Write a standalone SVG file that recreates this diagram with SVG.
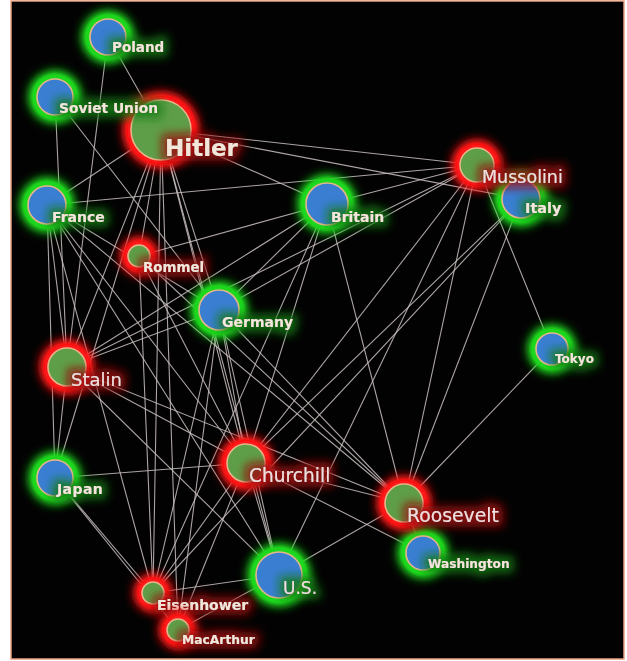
<svg xmlns="http://www.w3.org/2000/svg" width="627" height="661" viewBox="0 0 627 661">
<defs>
<style>
.e line{stroke:#cbc1c1;stroke-width:1.1;stroke-opacity:0.85}
.gb{fill:#1ed81e;filter:url(#blur)}
.rb{fill:#ff1414;filter:url(#blur)}
.cb{fill:#3a7ed2;stroke:#e6b68a;stroke-width:1.6}
.cg{fill:#5e9e48;stroke:#e6b68a;stroke-width:1.6}
.lb{font-family:"DejaVu Sans",Verdana,sans-serif;font-weight:bold;fill:#f3e6da}
.lr{font-family:"DejaVu Sans",Verdana,sans-serif;font-weight:normal;fill:#f2dede}
.tg{filter:url(#haloG)}
.tr{filter:url(#haloR)}
</style>
<filter id="blur" x="-1" y="-1" width="3" height="3">
<feGaussianBlur stdDeviation="5.5" result="b"/>
<feComponentTransfer in="b"><feFuncA type="linear" slope="1.5"/></feComponentTransfer>
</filter>
<filter id="haloG" x="-30%" y="-100%" width="160%" height="300%">
<feMorphology in="SourceAlpha" operator="dilate" radius="5" result="d"/>
<feGaussianBlur in="d" stdDeviation="5" result="b"/>
<feFlood flood-color="#157a15" flood-opacity="0.85"/>
<feComposite in2="b" operator="in" result="g"/>
<feMerge><feMergeNode in="g"/><feMergeNode in="SourceGraphic"/></feMerge>
</filter>
<filter id="haloR" x="-30%" y="-100%" width="160%" height="300%">
<feMorphology in="SourceAlpha" operator="dilate" radius="5" result="d"/>
<feGaussianBlur in="d" stdDeviation="5" result="b"/>
<feFlood flood-color="#9a0e0e" flood-opacity="0.85"/>
<feComposite in2="b" operator="in" result="g"/>
<feMerge><feMergeNode in="g"/><feMergeNode in="SourceGraphic"/></feMerge>
</filter>
</defs>
<rect x="0" y="0" width="627" height="661" fill="#ffffff"/>
<rect x="11" y="1" width="613" height="658" fill="#020202" stroke="#e9a080" stroke-width="1.5"/>
<g id="connectors" class="e">
<line x1="108" y1="37" x2="161" y2="130"/>
<line x1="108" y1="37" x2="67" y2="367"/>
<line x1="55" y1="97" x2="67" y2="367"/>
<line x1="55" y1="97" x2="219" y2="310"/>
<line x1="161" y1="130" x2="47" y2="205"/>
<line x1="161" y1="130" x2="327" y2="204"/>
<line x1="161" y1="130" x2="477" y2="165"/>
<line x1="161" y1="130" x2="521" y2="199"/>
<line x1="161" y1="130" x2="139" y2="256"/>
<line x1="161" y1="130" x2="219" y2="310"/>
<line x1="161" y1="130" x2="246" y2="463"/>
<line x1="161" y1="130" x2="67" y2="367"/>
<line x1="161" y1="130" x2="55" y2="478"/>
<line x1="161" y1="130" x2="153" y2="593"/>
<line x1="161" y1="130" x2="279" y2="575"/>
<line x1="161" y1="130" x2="178" y2="630"/>
<line x1="47" y1="205" x2="477" y2="165"/>
<line x1="47" y1="205" x2="67" y2="367"/>
<line x1="47" y1="205" x2="55" y2="478"/>
<line x1="47" y1="205" x2="153" y2="593"/>
<line x1="47" y1="205" x2="246" y2="463"/>
<line x1="47" y1="205" x2="219" y2="310"/>
<line x1="47" y1="205" x2="404" y2="503"/>
<line x1="47" y1="205" x2="279" y2="575"/>
<line x1="139" y1="256" x2="327" y2="204"/>
<line x1="139" y1="256" x2="153" y2="593"/>
<line x1="139" y1="256" x2="246" y2="463"/>
<line x1="139" y1="256" x2="404" y2="503"/>
<line x1="219" y1="310" x2="327" y2="204"/>
<line x1="219" y1="310" x2="477" y2="165"/>
<line x1="219" y1="310" x2="67" y2="367"/>
<line x1="219" y1="310" x2="246" y2="463"/>
<line x1="219" y1="310" x2="279" y2="575"/>
<line x1="219" y1="310" x2="153" y2="593"/>
<line x1="219" y1="310" x2="404" y2="503"/>
<line x1="219" y1="310" x2="178" y2="630"/>
<line x1="327" y1="204" x2="67" y2="367"/>
<line x1="327" y1="204" x2="246" y2="463"/>
<line x1="327" y1="204" x2="404" y2="503"/>
<line x1="327" y1="204" x2="477" y2="165"/>
<line x1="327" y1="204" x2="153" y2="593"/>
<line x1="477" y1="165" x2="67" y2="367"/>
<line x1="477" y1="165" x2="246" y2="463"/>
<line x1="477" y1="165" x2="404" y2="503"/>
<line x1="477" y1="165" x2="279" y2="575"/>
<line x1="477" y1="165" x2="552" y2="349"/>
<line x1="521" y1="199" x2="246" y2="463"/>
<line x1="521" y1="199" x2="404" y2="503"/>
<line x1="521" y1="199" x2="153" y2="593"/>
<line x1="67" y1="367" x2="55" y2="478"/>
<line x1="67" y1="367" x2="246" y2="463"/>
<line x1="67" y1="367" x2="404" y2="503"/>
<line x1="67" y1="367" x2="279" y2="575"/>
<line x1="55" y1="478" x2="246" y2="463"/>
<line x1="55" y1="478" x2="153" y2="593"/>
<line x1="55" y1="478" x2="178" y2="630"/>
<line x1="246" y1="463" x2="279" y2="575"/>
<line x1="246" y1="463" x2="153" y2="593"/>
<line x1="246" y1="463" x2="178" y2="630"/>
<line x1="246" y1="463" x2="404" y2="503"/>
<line x1="246" y1="463" x2="423" y2="553"/>
<line x1="279" y1="575" x2="404" y2="503"/>
<line x1="279" y1="575" x2="153" y2="593"/>
<line x1="279" y1="575" x2="178" y2="630"/>
<line x1="404" y1="503" x2="552" y2="349"/>
<line x1="404" y1="503" x2="423" y2="553"/>
</g>
<g id="hitler"><circle class="rb" cx="161" cy="130" r="37"/><circle class="cg" cx="161" cy="130" r="30"/><text class="lb tr" x="165" y="156" font-size="23" fill="#fbf3f3">Hitler</text></g>
<g id="poland"><circle class="gb" cx="108" cy="37" r="25"/><circle class="cb" cx="108" cy="37" r="18"/><text class="lb tg" x="112" y="52" font-size="13.5">Poland</text></g>
<g id="soviet-union"><circle class="gb" cx="55" cy="97" r="25"/><circle class="cb" cx="55" cy="97" r="18"/><text class="lb tg" x="59" y="113" font-size="13.8">Soviet Union</text></g>
<g id="france"><circle class="gb" cx="47" cy="205" r="26"/><circle class="cb" cx="47" cy="205" r="19"/><text class="lb tg" x="52" y="222" font-size="14">France</text></g>
<g id="germany"><circle class="gb" cx="219" cy="310" r="27"/><circle class="cb" cx="219" cy="310" r="20"/><text class="lb tg" x="222" y="327" font-size="14">Germany</text></g>
<g id="britain"><circle class="gb" cx="327" cy="204" r="28"/><circle class="cb" cx="327" cy="204" r="21"/><text class="lb tg" x="331" y="222" font-size="14">Britain</text></g>
<g id="italy"><circle class="gb" cx="521" cy="199" r="26"/><circle class="cb" cx="521" cy="199" r="19"/><text class="lb tg" x="525" y="213" font-size="14.5">Italy</text></g>
<g id="japan"><circle class="gb" cx="55" cy="478" r="25"/><circle class="cb" cx="55" cy="478" r="18"/><text class="lb tg" x="57" y="494" font-size="14" letter-spacing="0.4">Japan</text></g>
<g id="us"><circle class="gb" cx="279" cy="575" r="30"/><circle class="cb" cx="279" cy="575" r="23"/><text class="lr tg" x="283" y="594" font-size="17">U.S.</text></g>
<g id="tokyo"><circle class="gb" cx="552" cy="349" r="23"/><circle class="cb" cx="552" cy="349" r="16"/><text class="lb tg" x="555" y="363" font-size="12">Tokyo</text></g>
<g id="washington"><circle class="gb" cx="423" cy="553" r="24"/><circle class="cb" cx="423" cy="553" r="17"/><text class="lb tg" x="428" y="568" font-size="12.2">Washington</text></g>
<g id="rommel"><circle class="rb" cx="139" cy="256" r="18"/><circle class="cg" cx="139" cy="256" r="11"/><text class="lb tr" x="143" y="272" font-size="13.4">Rommel</text></g>
<g id="mussolini"><circle class="rb" cx="477" cy="165" r="24"/><circle class="cg" cx="477" cy="165" r="17"/><text class="lr tr" x="482" y="183" font-size="17.5">Mussolini</text></g>
<g id="stalin"><circle class="rb" cx="67" cy="367" r="26"/><circle class="cg" cx="67" cy="367" r="19"/><text class="lr tr" x="71" y="386" font-size="18">Stalin</text></g>
<g id="churchill"><circle class="rb" cx="246" cy="463" r="26"/><circle class="cg" cx="246" cy="463" r="19"/><text class="lr tr" x="249" y="482" font-size="18.6">Churchill</text></g>
<g id="roosevelt"><circle class="rb" cx="404" cy="503" r="26"/><circle class="cg" cx="404" cy="503" r="19"/><text class="lr tr" x="407" y="522" font-size="18.8">Roosevelt</text></g>
<g id="eisenhower"><circle class="rb" cx="153" cy="593" r="18"/><circle class="cg" cx="153" cy="593" r="11"/><text class="lb tr" x="157" y="610" font-size="14">Eisenhower</text></g>
<g id="macarthur"><circle class="rb" cx="178" cy="630" r="18"/><circle class="cg" cx="178" cy="630" r="11"/><text class="lb tr" x="182" y="644" font-size="12.3">MacArthur</text></g>
</svg>
